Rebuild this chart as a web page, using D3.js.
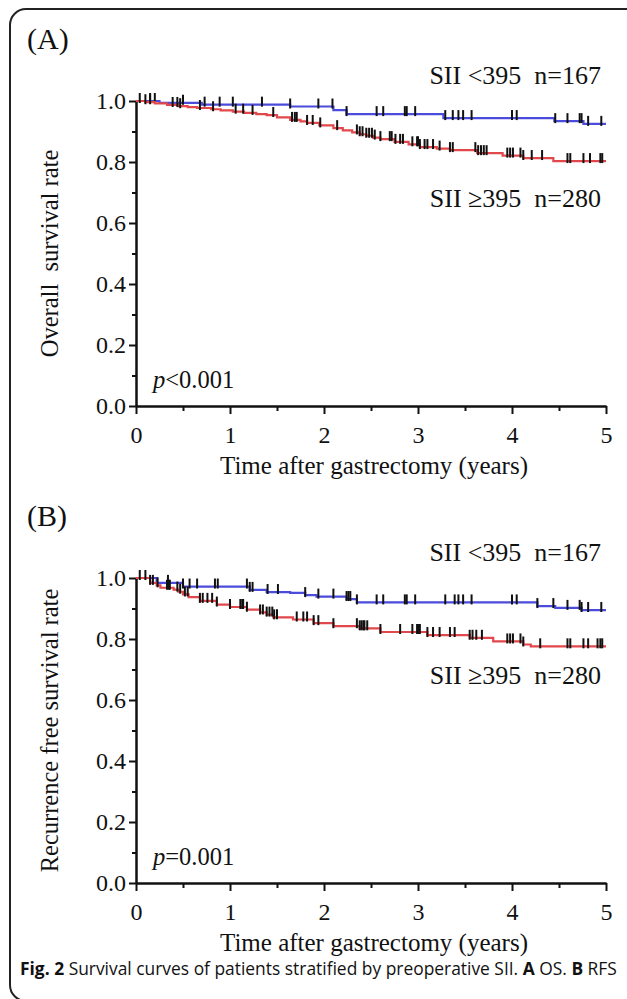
<!DOCTYPE html>
<html>
<head>
<meta charset="utf-8">
<script src="https://cdn.jsdelivr.net/npm/d3@7"></script>
<style>
  body { margin:0; background:#fff; }
  .axis path, .axis line { stroke:#111; stroke-width:2; }
  .axis text { font-family:"Liberation Serif", serif; font-size:24px; fill:#111; }
  .serif { font-family:"Liberation Serif", serif; fill:#111; }
</style>
</head>
<body>
<svg id="fig" width="627" height="999"></svg>
<script>
// ---- data ----
const xTicks = [0, 1, 2, 3, 4, 5];
const xMinor = [0.5, 1.5, 2.5, 3.5, 4.5];
const yTicks = [0, 0.2, 0.4, 0.6, 0.8, 1.0];
const yMinor = [0.1, 0.3, 0.5, 0.7, 0.9];

// (A) overall survival
const osLowTime = [0, 0.25, 0.7, 1.64, 2.1, 2.24, 3.27, 4.45, 4.76];
const osLowSurv = [1.0, 0.994, 0.988, 0.982, 0.970, 0.957, 0.944, 0.934, 0.925];
const osLowCens = [0.15, 0.2, 0.5, 0.73, 0.89, 1.03, 1.34, 1.64, 1.94, 2.09, 2.24, 2.56, 2.63, 2.86, 2.88, 2.97,
  3.29, 3.37, 3.43, 3.48, 3.57, 4.0, 4.05, 4.46, 4.59, 4.72, 4.74, 4.81, 4.95];

const osHighTime = [0, 0.1, 0.2, 0.33, 0.45, 0.55, 0.65, 0.8, 0.9, 1.03, 1.15, 1.28, 1.39, 1.5, 1.64, 1.75, 1.82,
  1.95, 2.1, 2.2, 2.3, 2.38, 2.45, 2.52, 2.6, 2.75, 2.9, 3.02, 3.2, 3.34, 3.63, 3.9, 4.12, 4.44];
const osHighSurv = [1.0, 0.996, 0.992, 0.987, 0.983, 0.980, 0.977, 0.973, 0.969, 0.965, 0.961, 0.957, 0.954, 0.946,
  0.938, 0.933, 0.928, 0.920, 0.911, 0.904, 0.897, 0.891, 0.886, 0.880, 0.875, 0.866, 0.858, 0.849, 0.844, 0.839,
  0.829, 0.821, 0.813, 0.803];
const osHighCens = [0.04, 0.1, 0.15, 0.39, 0.44, 0.47, 0.68, 0.82, 1.06, 1.14, 1.24, 1.46, 1.66, 1.69, 1.71, 1.82,
  1.88, 1.96, 2.14, 2.35, 2.38, 2.41, 2.45, 2.48, 2.51, 2.54, 2.6, 2.7, 2.72, 2.76, 2.81, 2.84, 2.94, 2.99, 3.0,
  3.02, 3.07, 3.1, 3.16, 3.23, 3.34, 3.37, 3.61, 3.64, 3.67, 3.7, 3.73, 3.95, 3.98, 4.01, 4.09, 4.12, 4.21, 4.32,
  4.59, 4.62, 4.76, 4.83, 4.94, 4.96];

// (B) recurrence free survival
const rfsLowTime = [0, 0.22, 0.5, 1.21, 1.39, 1.64, 1.8, 1.92, 2.24, 2.35, 4.27, 4.46, 4.74];
const rfsLowSurv = [1.0, 0.984, 0.972, 0.961, 0.954, 0.951, 0.944, 0.939, 0.931, 0.920, 0.908, 0.902, 0.895];
const rfsLowCens = [0.34, 0.5, 0.57, 0.65, 0.84, 0.87, 1.18, 1.21, 1.24, 1.4, 1.51, 1.8, 1.94, 2.1, 2.24, 2.26,
  2.28, 2.35, 2.56, 2.63, 2.86, 2.88, 2.97, 3.29, 3.39, 3.43, 3.48, 3.57, 4.0, 4.05, 4.27, 4.44, 4.59, 4.72, 4.74,
  4.81, 4.95];

const rfsHighTime = [0, 0.15, 0.22, 0.26, 0.4, 0.45, 0.5, 0.56, 0.68, 0.86, 1.0, 1.18, 1.32, 1.39, 1.46, 1.67,
  1.89, 2.1, 2.38, 2.6, 3.1, 3.55, 3.8, 4.12, 4.2];
const rfsHighSurv = [1.0, 0.984, 0.976, 0.968, 0.962, 0.955, 0.946, 0.937, 0.925, 0.913, 0.905, 0.896, 0.887,
  0.880, 0.871, 0.864, 0.852, 0.842, 0.835, 0.823, 0.813, 0.804, 0.792, 0.782, 0.776];
const rfsHighCens = [0.04, 0.1, 0.15, 0.18, 0.23, 0.33, 0.35, 0.36, 0.44, 0.47, 0.52, 0.55, 0.68, 0.71, 0.76,
  0.81, 0.86, 1.0, 1.11, 1.13, 1.14, 1.18, 1.32, 1.35, 1.39, 1.42, 1.45, 1.47, 1.5, 1.71, 1.78, 1.82, 1.89, 1.94,
  2.1, 2.35, 2.4, 2.42, 2.38, 2.43, 2.46, 2.6, 2.81, 2.94, 2.99, 3.0, 3.02, 3.1, 3.16, 3.23, 3.34, 3.39, 3.55,
  3.58, 3.62, 3.68, 3.95, 3.98, 4.01, 4.09, 4.12, 4.3, 4.59, 4.62, 4.76, 4.81, 4.91, 4.94, 4.96];

const lowColor = '#4b4bdc';
const highColor = '#e2474c';

const svg = d3.select('#fig');

// frame
svg.append('rect')
  .attr('x', 10).attr('y', 9)
  .attr('width', 680).attr('height', 992)
  .attr('rx', 16)
  .attr('fill', 'none')
  .attr('stroke', '#222')
  .attr('stroke-width', 2);

function panel(opt) {
  const x = d3.scaleLinear().domain([0, 5]).range([136, 606]);
  const y = d3.scaleLinear().domain([0, 1]).range([opt.bottom, opt.bottom - 305]);
  const g = svg.append('g');

  g.append('text')
    .attr('class', 'serif')
    .attr('x', 27).attr('y', opt.bottom - 357)
    .style('font-size', '30px')
    .text(opt.tag);

  // axes
  g.append('g').attr('class', 'axis')
    .attr('transform', `translate(0,${opt.bottom})`)
    .call(d3.axisBottom(x).tickValues(xMinor).tickSize(5).tickSizeOuter(0).tickFormat(''));
  g.append('g').attr('class', 'axis')
    .attr('transform', `translate(0,${opt.bottom})`)
    .call(d3.axisBottom(x).tickValues(xTicks).tickSize(8).tickSizeOuter(0).tickPadding(12)
      .tickFormat(d3.format('d')));
  g.append('g').attr('class', 'axis')
    .attr('transform', `translate(${x(0)},0)`)
    .call(d3.axisLeft(y).tickValues(yMinor).tickSize(4).tickSizeOuter(0).tickFormat(''));
  g.append('g').attr('class', 'axis')
    .attr('transform', `translate(${x(0)},0)`)
    .call(d3.axisLeft(y).tickValues(yTicks).tickSize(7).tickSizeOuter(0).tickPadding(3)
      .tickFormat(d3.format('.1f')));

  g.append('text')
    .attr('class', 'serif')
    .attr('x', (x(0) + x(5)) / 2 + 3).attr('y', opt.bottom + 68)
    .attr('text-anchor', 'middle')
    .style('font-size', '25px')
    .text('Time after gastrectomy (years)');

  g.append('text')
    .attr('class', 'serif')
    .attr('transform', `translate(58,${y(0.5)}) rotate(-90)`)
    .attr('text-anchor', 'middle')
    .style('font-size', '24.5px')
    .style('white-space', 'pre')
    .text(opt.ylabel);

  // curves
  const line = d3.line()
    .x(d => x(d[0]))
    .y(d => y(d[1]))
    .curve(d3.curveStepAfter);

  opt.series.forEach(s => {
    const pts = s.time.map((t, i) => [t, s.surv[i]]);
    pts.push([5, s.surv[s.surv.length - 1]]);
    g.append('path')
      .datum(pts)
      .attr('fill', 'none')
      .attr('stroke', s.color)
      .attr('stroke-width', 2.2)
      .attr('d', line);

    const survAt = t => {
      let v = s.surv[0];
      s.time.forEach((tt, i) => { if (tt <= t) v = s.surv[i]; });
      return v;
    };
    g.selectAll(null).data(s.cens)
      .enter().append('line')
        .attr('x1', d => x(d)).attr('x2', d => x(d))
        .attr('y1', d => y(survAt(d)) - 8)
        .attr('y2', d => y(survAt(d)) + 2)
        .attr('stroke', '#111')
        .attr('stroke-width', 2);
  });

  // legend labels
  g.append('text')
    .attr('class', 'serif')
    .attr('x', 601).attr('y', opt.bottom - 322)
    .attr('text-anchor', 'end')
    .style('font-size', '26px')
    .style('white-space', 'pre')
    .text('SII <395  n=167');
  g.append('text')
    .attr('class', 'serif')
    .attr('x', 601).attr('y', opt.bottom - 199)
    .attr('text-anchor', 'end')
    .style('font-size', '26px')
    .style('white-space', 'pre')
    .text('SII \u2265395  n=280');

  const pt = g.append('text')
    .attr('class', 'serif')
    .attr('x', 153).attr('y', opt.bottom - 18)
    .style('font-size', '24.5px');
  pt.append('tspan').style('font-style', 'italic').text('p');
  pt.append('tspan').text(opt.p);
}

panel({
  tag: '(A)', bottom: 406, ylabel: 'Overall  survival rate', p: '<0.001',
  series: [
    { time: osLowTime, surv: osLowSurv, cens: osLowCens, color: lowColor },
    { time: osHighTime, surv: osHighSurv, cens: osHighCens, color: highColor }
  ]
});
panel({
  tag: '(B)', bottom: 883, ylabel: 'Recurrence free survival rate', p: '=0.001',
  series: [
    { time: rfsLowTime, surv: rfsLowSurv, cens: rfsLowCens, color: lowColor },
    { time: rfsHighTime, surv: rfsHighSurv, cens: rfsHighCens, color: highColor }
  ]
});

// caption
const cap = svg.append('text')
  .attr('x', 20).attr('y', 975)
  .style('font-family', '"Open Sans", sans-serif')
  .style('font-size', '17.4px')
  .style('white-space', 'pre')
  .attr('fill', '#111');
cap.append('tspan').style('font-weight', 'bold').text('Fig. 2');
cap.append('tspan').text(' Survival curves of patients stratified by preoperative SII. ');
cap.append('tspan').style('font-weight', 'bold').text('A');
cap.append('tspan').text(' OS. ');
cap.append('tspan').style('font-weight', 'bold').text('B');
cap.append('tspan').text(' RFS');
</script>
</body>
</html>
